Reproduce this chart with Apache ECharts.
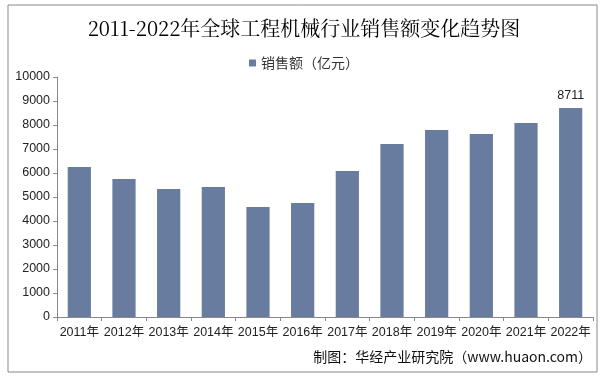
<!DOCTYPE html>
<html><head><meta charset="utf-8">
<script src="https://cdn.jsdelivr.net/npm/echarts@6/dist/echarts.min.js"></script>
<style>html,body{margin:0;padding:0;background:#fff}#c{width:608px;height:381px}</style>
</head><body><div id="c"></div>
<script>
const categories = ['2011年','2012年','2013年','2014年','2015年','2016年','2017年','2018年','2019年','2020年','2021年','2022年'];
const sales = [6250, 5750, 5330, 5420, 4580, 4750, 6080, 7210, 7790, 7630, 8080, 8711];
const seriesName = '销售额（亿元）';
const titleText = '2011-2022年全球工程机械行业销售额变化趋势图';
const sourceText = '制图：华经产业研究院（www.huaon.com）';

const chart = echarts.init(document.getElementById('c'), null, {renderer:'canvas'});
chart.setOption({
  animation:false,
  backgroundColor:'#fff',
  title:{text:titleText,left:'center',top:13,textStyle:{fontFamily:'"Noto Serif CJK SC","Liberation Serif",serif',fontSize:20,fontWeight:'normal',color:'#000'}},
  legend:{data:[seriesName],top:51,left:'center',itemWidth:7,itemHeight:7,itemGap:4,icon:'rect',
    textStyle:{fontFamily:'"Noto Sans CJK SC",sans-serif',fontSize:14,color:'#333'}},
  grid:{left:57,right:15,top:77,bottom:64,containLabel:false},
  xAxis:{type:'category',data:categories,
    axisLine:{lineStyle:{color:'#888'}},
    axisTick:{show:true,alignWithLabel:false,length:4,lineStyle:{color:'#888'}},
    axisLabel:{interval:0,fontFamily:'"Liberation Sans","Noto Sans CJK SC",sans-serif',fontSize:12.5,color:'#222',margin:9}},
  yAxis:{type:'value',min:0,max:10000,interval:1000,
    axisLine:{show:true,lineStyle:{color:'#888'}},
    axisTick:{show:true,length:4,lineStyle:{color:'#888'}},
    splitLine:{show:false},
    axisLabel:{formatter:v=>String(v),fontFamily:'"Liberation Sans",Arial,sans-serif',fontSize:12.5,color:'#222',margin:7}},
  series:[{name:seriesName,type:'bar',data:sales.map((v,i)=>i===sales.length-1?{value:v,label:{show:true}}:v),
    barWidth:'52%',itemStyle:{color:'#687ca0'},
    label:{show:false,position:'top',distance:6,fontFamily:'"Liberation Sans",Arial,sans-serif',fontSize:12.5,color:'#222'}}],
  graphic:[
    {type:'rect',shape:{x:8,y:5,width:589,height:367},style:{fill:'none',stroke:'#888',lineWidth:1},silent:true},
    {type:'text',right:16,top:350,style:{text:sourceText,font:'14px "Noto Sans CJK SC",sans-serif',fill:'#111'}}
  ]
});
</script></body></html>
